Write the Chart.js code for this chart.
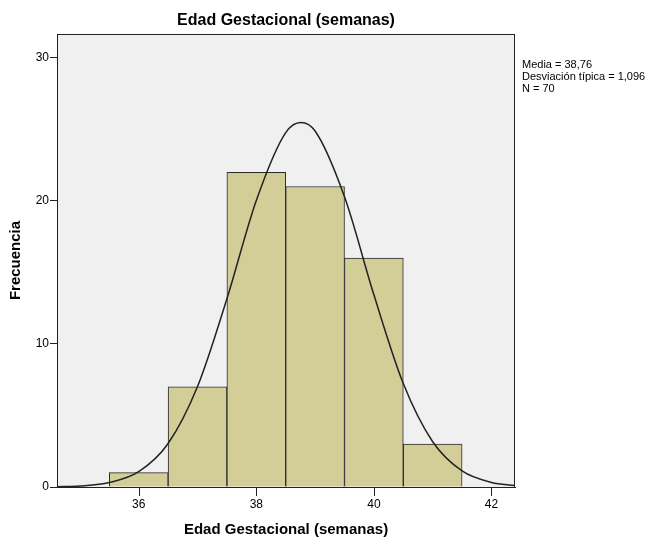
<!DOCTYPE html>
<html lang="es">
<head>
<meta charset="UTF-8" />
<title>Edad Gestacional (semanas)</title>
<script src="https://cdn.jsdelivr.net/npm/chart.js"></script>
<style>
  html, body { margin: 0; padding: 0; background: #fff; }
  #wrap { width: 657px; height: 539px; position: relative; }
</style>
</head>
<body>
<div id="wrap"><canvas id="hist"></canvas></div>
<script>
// bar centres (1 week wide bins) and counts
const binCenters = [36, 37, 38, 39, 40, 41];
const counts = [1, 7, 22, 21, 16, 3];

// normal curve
const curveX = [34.6, 35, 35.5, 36, 36.5, 37, 37.5, 38, 38.5, 38.76, 39, 39.5, 40, 40.5, 41, 41.5, 42, 42.4];
const curveY = [0.02, 0.07, 0.31, 1.07, 3.04, 7.02, 13.16, 20.03, 24.77, 25.48, 24.88, 20.28, 13.43, 7.23, 3.16, 1.12, 0.32, 0.1];

const xTicks = [36, 38, 40, 42];
const yTicks = [0, 10, 20, 30];

const stats = ["Media = 38,76", "Desviación típica = 1,096", "N = 70"];
const titleText = "Edad Gestacional (semanas)";

const FONT = "Arial, 'Liberation Sans', sans-serif";

// plot frame, background and the text around it
const frame = {
  id: "frame",
  beforeDraw(chart) {
    const { ctx, chartArea: a } = chart;
    ctx.save();
    ctx.fillStyle = "#f0f0f0";
    ctx.fillRect(a.left, a.top, a.right - a.left, a.bottom - a.top);
    ctx.restore();
  },
  afterDraw(chart) {
    const { ctx, chartArea: a, scales } = chart;
    ctx.save();
    ctx.strokeStyle = "#222";
    ctx.lineWidth = 1;
    ctx.strokeRect(a.left + 0.5, a.top + 0.5, a.right - a.left - 1, a.bottom - a.top);
    // x tick marks below the axis
    ctx.fillStyle = "#222";
    xTicks.forEach(v => {
      const px = Math.round(scales.x.getPixelForValue(v));
      ctx.fillRect(px, Math.round(a.bottom), 1, 9);
    });
    ctx.fillStyle = "#000";
    ctx.font = "bold 16px " + FONT;
    ctx.textAlign = "center";
    ctx.textBaseline = "middle";
    ctx.fillText(titleText, (a.left + a.right) / 2, 21);
    ctx.font = "11px " + FONT;
    ctx.textAlign = "left";
    stats.forEach((s, i) => ctx.fillText(s, a.right + 7, 65 + i * 12));
    ctx.restore();
  }
};

new Chart(document.getElementById("hist"), {
  type: "bar",
  data: {
    datasets: [
      {
        type: "line",
        data: curveX.map((x, i) => ({ x, y: curveY[i] })),
        borderColor: "#222",
        borderWidth: 1.5,
        pointRadius: 0,
        cubicInterpolationMode: "monotone",
        fill: false,
        order: 0
      },
      {
        data: binCenters.map((x, i) => ({ x, y: counts[i] })),
        backgroundColor: "#d3ce98",
        borderColor: "#2a2a2a",
        borderWidth: 1,
        barPercentage: 1,
        categoryPercentage: 1,
        order: 1
      }
    ]
  },
  options: {
    responsive: true,
    maintainAspectRatio: false,
    animation: false,
    layout: { padding: { left: 7, top: 34, right: 142, bottom: 0 } },
    plugins: { legend: { display: false }, tooltip: { enabled: false } },
    scales: {
      x: {
        type: "linear",
        offset: false,
        min: 34.61,
        max: 42.4,
        afterBuildTicks: s => { s.ticks = xTicks.map(v => ({ value: v })); },
        afterFit: s => { s.height = 52; },
        grid: { display: false, offset: false, tickLength: 8 },
        border: { display: true, color: "#222" },
        ticks: { color: "#000", font: { family: FONT, size: 12 }, padding: 2, maxRotation: 0 },
        title: { display: true, text: titleText, color: "#000", font: { family: FONT, size: 15, weight: "bold" }, padding: { top: 4, bottom: 0 } }
      },
      y: {
        min: 0,
        max: 31.66,
        afterBuildTicks: s => { s.ticks = yTicks.map(v => ({ value: v })); },
        afterFit: s => { s.width = 50; },
        grid: { drawOnChartArea: false, tickLength: 7, color: "#222" },
        border: { color: "#222" },
        ticks: { color: "#000", font: { family: FONT, size: 12 }, padding: 1 },
        title: { display: true, text: "Frecuencia", color: "#000", font: { family: FONT, size: 15, weight: "bold" }, padding: 0 }
      }
    }
  },
  plugins: [frame]
});
</script>
</body>
</html>
